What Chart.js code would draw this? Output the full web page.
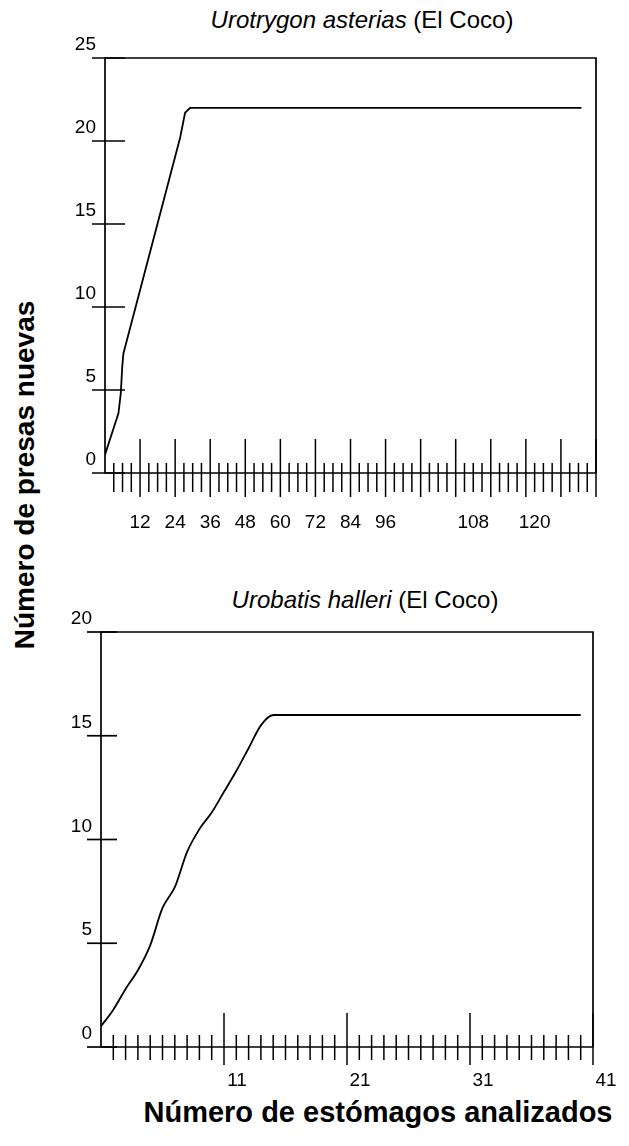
<!DOCTYPE html>
<html>
<head>
<meta charset="utf-8">
<script src="https://cdn.jsdelivr.net/npm/chart.js"></script>
<style>
html,body{margin:0;padding:0;background:#fff;}
#wrap{position:relative;width:629px;height:1146px;overflow:hidden;font-family:"Liberation Sans",Arial,sans-serif;color:#000;}
canvas{position:absolute;left:0;}
.t{position:absolute;white-space:nowrap;transform:translate(-50%,-50%);}
</style>
</head>
<body>
<div id="wrap">
  <div class="t" id="title1" style="left:362px;top:20px;font-size:24px;"><i>Urotrygon asterias</i> (El Coco)</div>
  <div class="t" id="title2" style="left:365px;top:600px;font-size:24px;"><i>Urobatis halleri</i> (El Coco)</div>
  <div class="t" id="ytitle" style="left:25px;top:475px;font-size:28px;font-weight:bold;transform:translate(-50%,-50%) rotate(-90deg);">Número de presas nuevas</div>
  <div class="t" id="xtitle" style="left:378px;top:1112px;font-size:29px;font-weight:bold;">Número de estómagos analizados</div>
  <canvas id="c1" width="629" height="560" style="top:0px;"></canvas>
  <canvas id="c2" width="629" height="586" style="top:560px;"></canvas>
</div>
<script>
// ---- Data ----
// Urotrygon asterias (El Coco)
const topX = [0, 4.6, 5.4, 5.9, 6.3, 25.7, 27.4, 29.1, 163];
const topY = [1.1, 3.6, 4.8, 6.4, 7.2, 20.2, 21.7, 22.0, 22.0];
const topYTicks = [0, 5, 10, 15, 20, 25];
const topXTickLabels = ['12', '24', '36', '48', '60', '72', '84', '96', '108', '120'];
const topXTickLabelAt = [12, 24, 36, 48, 60, 72, 84, 96, 126, 147];

// Urobatis halleri (El Coco)
const botX = [1, 2, 3, 4, 5, 6, 7, 8, 9, 10, 11, 12, 13, 14, 15, 40];
const botY = [1.0, 1.8, 2.8, 3.7, 4.9, 6.7, 7.7, 9.4, 10.5, 11.3, 12.3, 13.3, 14.4, 15.5, 16.0, 16.0];
const botYTicks = [0, 5, 10, 15, 20];
const botXTickLabels = ['11', '21', '31', '41'];
const botXTickLabelAt = [11, 21, 31, 41];

// ---- Hand-drawn style axes plugin ----
const handAxes = {
  id: 'handAxes',
  afterDraw(chart, args, o) {
    const {ctx, chartArea: a, scales: {x, y}} = chart;
    ctx.save();
    ctx.strokeStyle = '#000';
    ctx.lineWidth = 1.7;
    ctx.lineCap = 'butt';
    // frame
    ctx.beginPath();
    ctx.moveTo(a.left, a.bottom);
    ctx.lineTo(a.left, a.top);
    ctx.lineTo(a.right, a.top);
    ctx.lineTo(a.right, a.bottom);
    ctx.moveTo(a.left, a.bottom);
    ctx.lineTo(a.right, a.bottom);
    ctx.stroke();
    // y ticks crossing the axis
    y.ticks.forEach(t => {
      const py = y.getPixelForValue(t.value);
      ctx.beginPath();
      ctx.moveTo(a.left - o.yOut, py);
      ctx.lineTo(a.left + o.yIn, py);
      ctx.stroke();
    });
    // x minor / major ticks
    ctx.lineWidth = 1.5;
    for (let v = o.xStart; v <= x.max + 1e-9; v += o.minorStep) {
      const px = x.getPixelForValue(v);
      const k = (v - o.majorFrom) / o.majorStep;
      const major = v >= o.majorFrom && Math.abs(k - Math.round(k)) < 1e-6;
      ctx.beginPath();
      if (major) {
        ctx.moveTo(px, a.bottom - o.majUp);
        ctx.lineTo(px, a.bottom + o.majDown);
      } else {
        ctx.moveTo(px, a.bottom - o.minUp);
        ctx.lineTo(px, a.bottom + o.minDown);
      }
      ctx.stroke();
    }
    ctx.restore();
  }
};

function makeChart(id, xs, ys, cfg) {
  const pts = xs.map((v, i) => ({x: v, y: ys[i]}));
  return new Chart(document.getElementById(id), {
    type: 'line',
    data: {datasets: [{
      data: pts,
      borderColor: '#000',
      borderWidth: 1.8,
      pointRadius: 0,
      fill: false,
      tension: cfg.tension,
      cubicInterpolationMode: cfg.mono ? 'monotone' : 'default'
    }]},
    plugins: [handAxes],
    options: {
      responsive: false,
      animation: false,
      devicePixelRatio: 1,
      layout: {padding: cfg.padding},
      plugins: {
        legend: {display: false},
        tooltip: {enabled: false},
        title: {display: false},
        handAxes: cfg.hand
      },
      scales: {
        x: {
          type: 'linear',
          min: cfg.xMin, max: cfg.xMax,
          grid: {display: false, drawTicks: false},
          border: {display: false},
          afterFit(s) { s.height = cfg.xH; },
          afterBuildTicks(s) { s.ticks = cfg.xLabelAt.map(v => ({value: v})); },
          ticks: {
            autoSkip: false, maxRotation: 0, minRotation: 0,
            padding: cfg.xPad,
            labelOffset: cfg.xLabelOffset,
            color: '#000',
            font: {family: '"Liberation Sans", Arial, sans-serif', size: 19},
            callback(value, index) { return cfg.xLabels[index]; }
          }
        },
        y: {
          type: 'linear',
          min: cfg.yMin, max: cfg.yMax,
          grid: {display: false, drawTicks: false},
          border: {display: false},
          afterFit(s) { s.width = cfg.yW; },
          afterBuildTicks(s) { s.ticks = cfg.yTicks.map(v => ({value: v})); },
          ticks: {
            padding: 9,
            labelOffset: -13,
            color: '#000',
            font: {family: '"Liberation Sans", Arial, sans-serif', size: 19}
          }
        }
      }
    }
  });
}

makeChart('c1', topX, topY, {
  padding: {left: 0, right: 33, top: 58, bottom: 27},
  xMin: 0, xMax: 168, yMin: 0, yMax: 25, tension: 0, mono: false,
  xH: 60, yW: 105, xPad: 38, xLabelOffset: 0,
  xLabels: topXTickLabels, xLabelAt: topXTickLabelAt, yTicks: topYTicks,
  hand: {yOut: 13, yIn: 20, xStart: 3, minorStep: 3, majorFrom: 12, majorStep: 12,
         majUp: 34, majDown: 24, minUp: 10, minDown: 19}
});

makeChart('c2', botX, botY, {
  padding: {left: 0, right: 36, top: 72, bottom: 39},
  xMin: 1, xMax: 41, yMin: 0, yMax: 20, tension: 0.4, mono: true,
  xH: 60, yW: 101, xPad: 22, xLabelOffset: 13,
  xLabels: botXTickLabels, xLabelAt: botXTickLabelAt, yTicks: botYTicks,
  hand: {yOut: 14, yIn: 16, xStart: 2, minorStep: 1, majorFrom: 11, majorStep: 10,
         majUp: 34, majDown: 18, minUp: 12, minDown: 13}
});
</script>
</body>
</html>
